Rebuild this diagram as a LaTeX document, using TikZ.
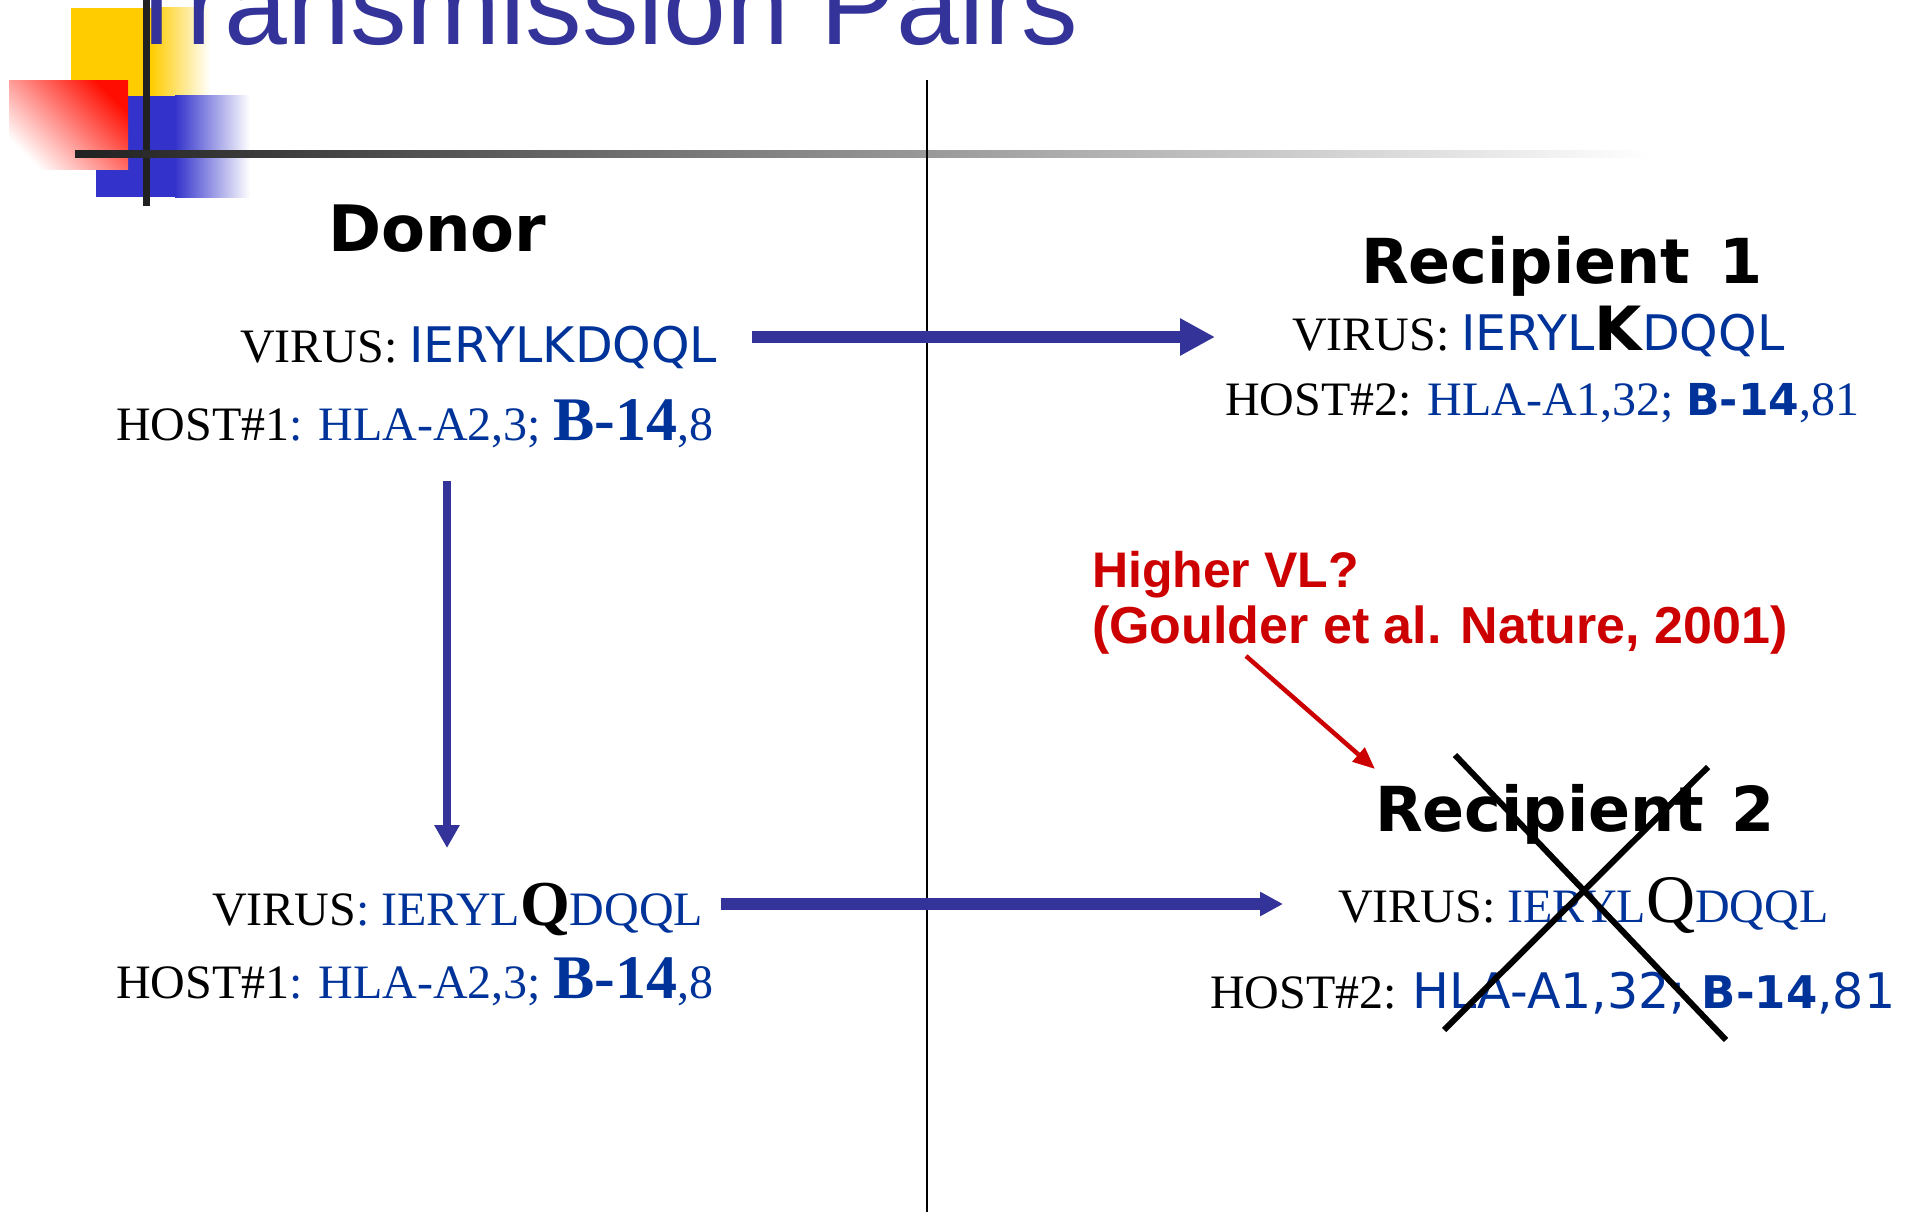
\documentclass[tikz,border=0pt]{standalone}
\usepackage{fontspec}
\setmainfont{Liberation Serif}
\newfontfamily\arialfont{Liberation Sans}
\newfontfamily\verdfont{DejaVu Sans}
\usetikzlibrary{arrows.meta}
\definecolor{titleblue}{RGB}{51,51,153}
\definecolor{seqblue}{RGB}{0,51,153}
\definecolor{vlred}{RGB}{204,0,0}
\definecolor{sqyellow}{RGB}{255,204,0}
\definecolor{sqblue}{RGB}{51,51,204}
\newcommand{\fsz}[1]{\fontsize{#1}{#1}\selectfont}
\begin{document}
\begin{tikzpicture}[x=1pt,y=-1pt,
  txt/.style={anchor=base west,inner sep=0pt,outer sep=0pt,font=\fsz{48}},
  head/.style={txt,font=\verdfont\bfseries\fsz{62}},
  flow/.style={draw=titleblue}]
\useasboundingbox (0,0) rectangle (1912,1212);
\fill[sqyellow] (71,8) rectangle (152,97);
\shade[left color=sqyellow,right color=white] (151,8) rectangle (210,97);
\fill[sqblue] (96,96) rectangle (176,197);
\shade[left color=sqblue,right color=white] (175,96) rectangle (250,197);
\shade[top color=red!90!orange,bottom color=white,shading angle=-45] (9,81) rectangle (128,170);
\node[txt,font=\arialfont\fsz{113},text=titleblue] (title) at (122,45) {Transmission Pairs};
\fill[black!87] (143,0) rectangle (150,206);
\shade[left color=black!87,middle color=black!35,right color=white] (75,151) rectangle (1650,158);
\draw[line width=2pt] (927,80) -- (927,1212);
\node[head,font=\verdfont\bfseries\fsz{64}] (donor) at (328,251) {Donor};
\node[txt] (virD) at (240,362) {VIRUS: {\verdfont\fsz{49}\color{seqblue}IERYLKDQQL}};
\node[txt] (hostD) at (116,440) {HOST\#1{\color{seqblue}: HLA-A2,3; {\bfseries\fsz{62}B-14},8}};
\node[txt] (virL) at (212,925) {VIRUS{\color{seqblue}: IERYL}{\bfseries\fsz{64}Q}{\color{seqblue}DQQL}};
\node[txt] (hostL) at (116,998) {HOST\#1{\color{seqblue}: HLA-A2,3; {\bfseries\fsz{62}B-14},8}};
\node[head] (recA) at (1361,283) {Recipient\hspace{8pt} 1};
\node[txt] (virA) at (1292,350) {VIRUS: {\verdfont\fsz{49}\color{seqblue}IERYL}{\verdfont\bfseries\fsz{61}K}{\verdfont\fsz{49}\color{seqblue}DQQL}};
\node[txt] (hostA) at (1225,415) {HOST\#2: {\color{seqblue}HLA-A1,32; {\verdfont\bfseries\fsz{44}B-14},81}};
\node[head] (recB) at (1375,831) {Recipient\hspace{6pt} 2};
\node[txt] (virB) at (1338,922) {VIRUS: {\color{seqblue}IERYL}{\fsz{68}Q}{\color{seqblue}DQQL}};
\node[txt] (hostB) at (1210,1008) {HOST\#2: {\verdfont\fsz{49}\color{seqblue}HLA-A1,32; {\bfseries\fsz{45}B-14},81}};
\node[txt,font=\arialfont\bfseries\fsz{50},text=vlred] (vlA) at (1092,587) {Higher VL?};
\node[txt,font=\arialfont\bfseries\fsz{52},text=vlred] (vlB) at (1092,643) {(Goulder et al. Nature, 2001)};
\coordinate (a1s) at (752,337);
\coordinate (a1e) at (1215,337);
\coordinate (a2s) at (447,481);
\coordinate (a2e) at (447,848);
\coordinate (a3s) at (721,904);
\coordinate (a3e) at (1283,904);
\coordinate (vls) at (1246,656);
\coordinate (vle) at (1375,769);
\draw[flow,line width=12pt,-{Triangle[length=35pt,width=35pt]}] (a1s) -- (a1e);
\draw[flow,line width=8pt,-{Triangle[length=23pt,width=24pt]}] (a2s) -- (a2e);
\draw[flow,line width=12pt,-{Triangle[length=23pt,width=23pt]}] (a3s) -- (a3e);
\draw[vlred,line width=4.5pt,-{Triangle[length=22pt,width=18pt]}] (vls) -- (vle);
\draw[line width=6pt] (1455,755) -- (1726,1040);
\draw[line width=6pt] (1708,767) -- (1444,1030);
\end{tikzpicture}
\end{document}
